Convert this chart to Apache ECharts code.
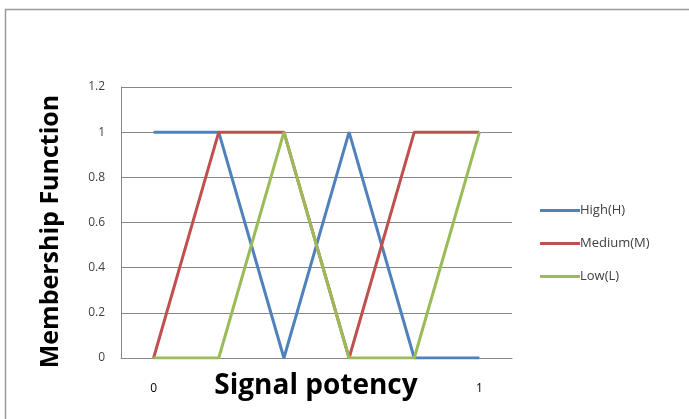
<!DOCTYPE html>
<html><head><meta charset="utf-8">
<script src="https://cdn.jsdelivr.net/npm/echarts@6/dist/echarts.min.js"></script>
<style>html,body{margin:0;padding:0;background:#fff}#c{width:689px;height:419px}</style>
</head><body><div id="c"></div>
<script>
const categories = ["0", "", "", "", "", "1"];
const highValues = [1, 1, 0, 1, 0, 0];
const mediumValues = [0, 1, 1, 0, 1, 1];
const lowValues = [0, 0, 1, 0, 0, 1];
const seriesNames = ["High(H)", "Medium(M)", "Low(L)"];
const yTicks = [0, 0.2, 0.4, 0.6, 0.8, 1, 1.2];
const xTitle = 'Signal potency';
const yTitle = 'Membership Function';

const chart = echarts.init(document.getElementById('c'));
const colors = ['#4F81BD', '#C0504D', '#9BBB59'];
const data = [highValues, mediumValues, lowValues];
chart.setOption({
  animation: false,
  color: colors,
  graphic: [
    {type: 'rect', left: 3, top: 7, shape: {width: 720, height: 440}, style: {fill: 'none', stroke: '#9a9a9a', lineWidth: 1.5}},
    {type: 'text', x: 316, y: 386, style: {text: xTitle, fill: '#000', font: 'bold 28px "Open Sans"', align: 'center', verticalAlign: 'middle'}}
  ],
  grid: {left: 121, right: 177, top: 87, bottom: 61, containLabel: false, outerBoundsMode: 'none'},
  legend: {
    orient: 'vertical', left: 535, top: 199, itemGap: 20,
    icon: 'rect', itemWidth: 40, itemHeight: 3,
    textStyle: {fontFamily: 'Open Sans', fontSize: 13, color: '#404040', padding: [0, 0, 0, -5]},
    data: seriesNames
  },
  xAxis: {
    type: 'category', data: categories, boundaryGap: true,
    axisLine: {lineStyle: {color: '#868686', width: 1}},
    axisTick: {show: false},
    axisLabel: {interval: 0, margin: 25, fontFamily: 'Open Sans', fontSize: 12, color: '#000'}
  },
  yAxis: {
    type: 'value', min: 0, max: 1.2, interval: 0.2,
    name: yTitle, nameLocation: 'middle', nameGap: 58,
    nameTextStyle: {fontFamily: 'Open Sans', fontWeight: 'bold', fontSize: 25, color: '#000', padding: [0, 18, 0, 0]},
    axisLine: {show: true, lineStyle: {color: '#868686', width: 1}},
    axisTick: {show: false},
    splitLine: {lineStyle: {color: '#868686', width: 1}},
    axisLabel: {margin: 16, fontFamily: 'Open Sans', fontSize: 12, color: '#404040',
      formatter: v => { const t = yTicks.find(x => Math.abs(x - v) < 1e-9); return t === undefined ? '' : String(t); }}
  },
  series: seriesNames.map((n, i) => ({
    name: n, type: 'line', data: data[i], showSymbol: false, symbol: 'none',
    lineStyle: {width: 3, color: colors[i]}
  }))
});
</script></body></html>
